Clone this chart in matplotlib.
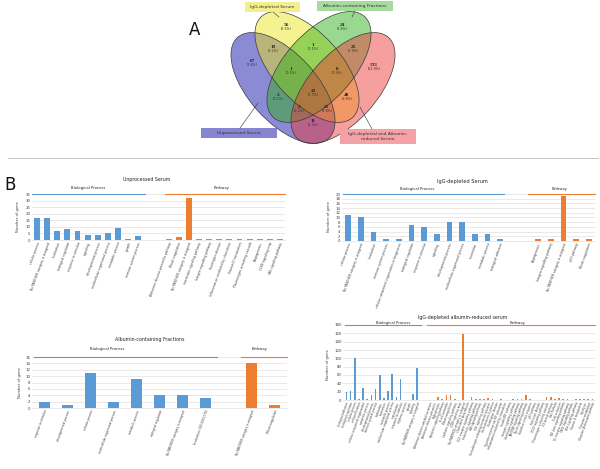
import numpy as np
import matplotlib
matplotlib.use("Agg")
import matplotlib.pyplot as plt
from matplotlib.patches import Ellipse, Rectangle
from matplotlib.lines import Line2D

# ---------------- data ----------------
venn_sets = ["Unprocessed Serum", "IgG-depleted Serum", "Albumin-containing Fractions",
             "IgG-depleted and Albumin-\nreduced Serum"]
venn_counts = ["67", "56", "24", "533", "19", "1", "25", "1", "8", "2", "23", "48", "2", "41", "11"]
venn_pcts = ["(7.8%)", "(6.5%)", "(2.8%)", "(61.9%)", "(2.2%)", "(0.1%)", "(2.9%)", "(0.1%)",
             "(0.9%)", "(0.2%)", "(2.7%)", "(5.6%)", "(0.2%)", "(4.8%)", "(1.3%)"]

c1_bio_labels = ["cellular process", "No PANTHER category is assigned", "localization",
                 "biological regulation", "response to stimulus", "signaling",
                 "developmental process", "multicellular organismal process",
                 "metabolic process", "growth", "immune system process"]
c1_bio = [17, 17, 7, 8, 7, 4, 4, 5, 9, 1, 3]
c1_path_labels = ["Alzheimer disease-presenilin pathway", "Blood coagulation",
                  "No PANTHER category is assigned", "Interleukin signaling pathway",
                  "Integrin signalling pathway", "Huntington disease",
                  "Inflammation mediated by chemokine", "Vitamin D metabolism",
                  "Plasminogen activating cascade", "Angiogenesis",
                  "CCKR signaling map", "FAS signaling pathway"]
c1_path = [1, 2, 32, 1, 1, 1, 1, 1, 1, 1, 1, 1]

c2_bio_labels = ["cellular process", "No PANTHER category is assigned", "localization",
                 "immune system process", "cellular component organization or biogenesis",
                 "biological regulation", "response to stimulus", "signaling",
                 "developmental process", "multicellular organismal process",
                 "locomotion", "metabolic process", "biological adhesion"]
c2_bio = [11, 10, 4, 1, 1, 7, 6, 3, 8, 8, 3, 3, 1]
c2_path_labels = ["Angiogenesis", "Integrin signalling pathway",
                  "No PANTHER category is assigned", "p53 pathway", "Blood coagulation"]
c2_path = [1, 1, 19, 1, 1]

c3_bio_labels = ["response to stimulus", "developmental process", "cellular process",
                 "multicellular organismal process", "metabolic process",
                 "biological regulation", "No PANTHER category is assigned",
                 "localization (GO:0051179)"]
c3_bio = [2, 1, 11, 2, 9, 4, 4, 3]
c3_path_labels = ["No PANTHER category is assigned", "Blood coagulation"]
c3_path = [14, 1]

c4_bio_labels = ["biological adhesion", "biological regulation", "cellular process",
                 "cell proliferation", "cellular component organization",
                 "apoptotic process", "developmental process", "immune system process",
                 "localization", "locomotion", "metabolic process",
                 "multicellular organismal process", "reproduction",
                 "response to stimulus", "rhythmic process", "growth",
                 "signaling", "No PANTHER category is assigned"]
c4_bio = [20, 21, 100, 3, 30, 2, 12, 27, 60, 6, 21, 63, 7, 50, 1, 1, 14, 77]
c4_path_labels = ["Alzheimer disease-amyloid secretase", "Alzheimer disease-presenilin",
                  "Angiogenesis", "Apoptosis signaling pathway", "B cell activation",
                  "Blood coagulation", "Cadherin signaling pathway", "CCKR signaling map",
                  "No PANTHER category is assigned", "Cholesterol biosynthesis",
                  "EGF receptor signaling pathway", "Endothelin signaling pathway",
                  "FAS signaling pathway", "FGF signaling pathway",
                  "Gonadotropin-releasing hormone receptor", "Heterotrimeric G-protein",
                  "Huntington disease", "Hypoxia response via HIF activation",
                  "Inflammation mediated by chemokine", "Insulin/IGF pathway",
                  "Integrin signalling pathway", "Interleukin signaling pathway",
                  "JAK/STAT signaling pathway", "Notch signaling pathway",
                  "Oxidative stress response", "p53 pathway", "Parkinson disease",
                  "PDGF signaling pathway", "Plasminogen activating cascade",
                  "PI3 kinase pathway", "Ras Pathway", "T cell activation",
                  "TGF-beta signaling pathway", "Toll receptor signaling pathway",
                  "VEGF signaling pathway", "Wnt signaling pathway",
                  "Vitamin D metabolism", "Glycolysis", "Pyruvate metabolism",
                  "Ubiquitin proteasome pathway"]
c4_path = [1, 1, 8, 2, 12, 12, 2, 1, 158, 1, 8, 3, 2, 3, 6, 2, 1, 2, 1, 1,
           2, 3, 2, 12, 2, 1, 1, 1, 7, 7, 2, 5, 2, 2, 1, 2, 2, 3, 2, 2]

# ---------------- figure ----------------
W, H = 600, 469
fig = plt.figure(figsize=(6, 4.69), dpi=100)
fig.patch.set_facecolor("white")

def rect(x0, y0, x1, y1):
    return [x0 / W, 1 - y1 / H, (x1 - x0) / W, (y1 - y0) / H]

def ftext(x, y, s, **kw):
    fig.text(x / W, 1 - y / H, s, **kw)

BLUE = "#5b9bd5"
ORANGE = "#ed7d31"
TXT = "#404040"

# ---------------- Venn ----------------
vax = fig.add_axes(rect(180, 0, 440, 152))
vax.set_xlim(180, 440)
vax.set_ylim(152, 0)
vax.axis("off")

ell_geom = [(283, 88, 48), (307, 67, 48), (319, 67, -48), (343, 88, -48)]
ell_cols = ["#0a0aa8", "#ebe519", "#2daf19", "#eb3737"]
for (cx, cy, ang), col in zip(ell_geom, ell_cols):
    vax.add_patch(Ellipse((cx, cy), 136, 68, angle=ang, facecolor=col, alpha=0.48,
                          edgecolor="none"))
for (cx, cy, ang) in ell_geom:
    vax.add_patch(Ellipse((cx, cy), 136, 68, angle=ang, facecolor="none",
                          edgecolor="#3a3a3a", lw=0.5))

num_pos = [(252, 62), (286, 27), (342, 27), (374, 66), (273, 49), (313, 47), (353, 49),
           (291, 71), (337, 71), (278, 97), (313, 92), (347, 97), (299, 108), (327, 108),
           (313, 122)]
for (x, y), n, p in zip(num_pos, venn_counts, venn_pcts):
    vax.text(x, y - 1.5, n, ha="center", va="center", fontsize=3.8, fontweight="bold",
             family="Liberation Serif", color="#222222")
    vax.text(x, y + 2.5, p, ha="center", va="center", fontsize=2.4, color="#333333")

# label boxes
boxes = [((201, 128, 277, 138), "#8585d2", (240, 128), (258, 103)),
         ((245, 2, 300, 12), "#f3ef8c", (273, 12), (279, 17)),
         ((317, 1, 393, 11), "#a5dc9b", (355, 11), (352, 17)),
         ((340, 129, 416, 144), "#f4a2a5", (372, 129), (360, 107))]
for ((x0, y0, x1, y1), col, p0, p1), name in zip(boxes, venn_sets):
    vax.add_patch(Rectangle((x0, y0), x1 - x0, y1 - y0, facecolor=col, edgecolor="none"))
    vax.plot([p0[0], p1[0]], [p0[1], p1[1]], color="#333333", lw=0.4)
    vax.text((x0 + x1) / 2, (y0 + y1) / 2, name, ha="center", va="center", fontsize=3.2,
             color="#333333", linespacing=1.1)

ftext(195, 30, "A", fontsize=12, ha="center", va="center", color="#111111")

# separator
fig.add_artist(Line2D([8 / W, 598 / W], [1 - 158 / H, 1 - 158 / H], color="#bbbbbb", lw=0.6))
ftext(10, 185, "B", fontsize=12, ha="center", va="center", color="#111111")

# ---------------- bar charts ----------------
def bar_chart(box, bio, bio_lab, path, path_lab, path_start, ymax, ystep, xlim, width,
              bio_line, path_line, title, title_xy, bp_xy, pw_xy, ylab_xy, lab_fs=2.2,
              title_fs=3.4):
    ax = fig.add_axes(rect(*box))
    xb = np.arange(len(bio))
    xp = path_start + np.arange(len(path))
    ax.bar(xb, bio, width=width, color=BLUE, zorder=3)
    ax.bar(xp, path, width=width, color=ORANGE, zorder=3)
    ax.set_xlim(*xlim)
    ax.set_ylim(0, ymax)
    ax.set_yticks(np.arange(0, ymax + 0.1, ystep))
    ax.yaxis.grid(True, color="#d9d9d9", lw=0.4)
    ax.set_axisbelow(True)
    for s in ["top", "right", "left"]:
        ax.spines[s].set_visible(False)
    ax.spines["bottom"].set_color("#d9d9d9")
    ax.spines["bottom"].set_linewidth(0.4)
    ax.tick_params(axis="both", length=0, labelsize=2.8, pad=1, colors=TXT)
    ax.set_xticks(np.concatenate([xb, xp]))
    ax.set_xticklabels(list(bio_lab) + list(path_lab), rotation=70, ha="right",
                       rotation_mode="anchor", fontsize=lab_fs, color=TXT)
    ax.plot(bio_line, [ymax, ymax], color=BLUE, lw=0.8, clip_on=False, zorder=4)
    ax.plot(path_line, [ymax, ymax], color=ORANGE, lw=0.8, clip_on=False, zorder=4)
    ftext(*title_xy, title, fontsize=title_fs, ha="center", va="center", color="#222222")
    ftext(*bp_xy, "Biological Process", fontsize=2.7, ha="center", va="center", color="#222222")
    ftext(*pw_xy, "Pathway", fontsize=2.7, ha="center", va="center", color="#222222")
    ftext(*ylab_xy, "Number of gene", fontsize=2.7, ha="center", va="center",
          rotation=90, color=TXT)
    return ax

bar_chart((32, 194, 285, 240), c1_bio, c1_bio_labels, c1_path, c1_path_labels, 13,
          35, 5, (-0.5, 24.5), 0.58, [-0.5, 10.7], [12.6, 24.5],
          "Unprocessed Serum", (147, 180), (88, 188), (222, 188), (18, 217))

bar_chart((342, 194, 595, 241), c2_bio, c2_bio_labels, c2_path, c2_path_labels, 15,
          20, 2, (-0.5, 19.5), 0.45, [-0.45, 12.3], [14.2, 19.5],
          "IgG-depleted Serum", (462, 182), (417, 189), (560, 189), (329, 217),
          title_fs=3.6)

bar_chart((32, 357, 287, 408), c3_bio, c3_bio_labels, c3_path, c3_path_labels, 9,
          16, 2, (-0.55, 10.55), 0.5, [-0.46, 7.5], [8.55, 10.55],
          "Albumin-containing Fractions", (150, 340), (107, 349), (260, 349), (20, 383),
          lab_fs=2.1)

bar_chart((343, 325, 595, 400), c4_bio, c4_bio_labels, c4_path, c4_path_labels, 20,
          180, 20, (-0.8, 59.6), 0.4, [-0.32, 17.8], [19.26, 59.6],
          "IgG-depleted albumin-reduced serum", (463, 318), (393, 323), (518, 323),
          (328, 365), lab_fs=1.9)

fig.savefig("out.png", dpi=100, facecolor="white")
